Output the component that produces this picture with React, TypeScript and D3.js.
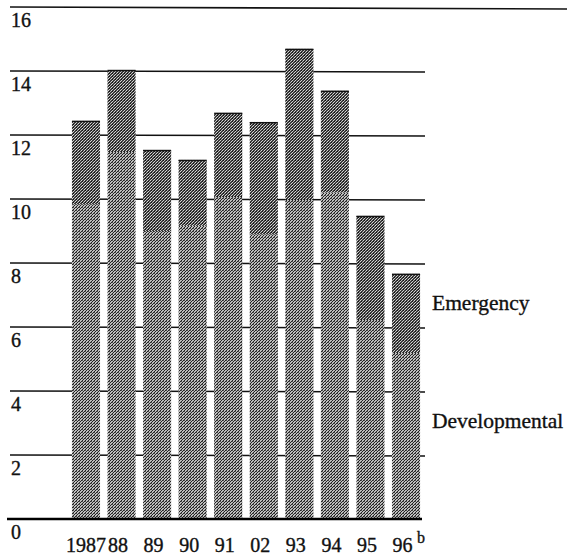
import React from "react";
import * as d3 from "d3";

const years = ["1987", "88", "89", "90", "91", "02", "93", "94", "95", "96"];
const developmental = [9.84, 11.47, 9.0, 9.16, 10.06, 8.9, 9.97, 10.2, 6.22, 5.19];
const emergency = [2.6, 2.56, 2.53, 2.06, 2.63, 3.5, 4.72, 3.18, 3.25, 2.47];
const yTicks = [0, 2, 4, 6, 8, 10, 12, 14, 16];
const seriesNames = ["Developmental", "Emergency"];

const W = 567;
const H = 558;

export default function App() {
  const y = d3.scaleLinear().domain([0, 16]).range([519, 7]);
  const x = d3
    .scaleBand<string>()
    .domain(years)
    .range([68.2, 423.8])
    .paddingInner(0.21)
    .paddingOuter(0.105);

  const stacked = d3
    .stack<any>()
    .keys(seriesNames)(
      years.map((yr, i) => ({
        year: yr,
        Developmental: developmental[i],
        Emergency: emergency[i],
      }))
    );

  const font = "'Liberation Serif', 'Times New Roman', serif";
  const txt = { fontFamily: font, fill: "#111", stroke: "#111", strokeWidth: 0.35 };

  return (
    <svg
      width={W}
      height={H}
      style={{ position: "absolute", left: 0, top: 0, background: "#fff" }}
    >
      <defs>
        <pattern id="dev" width="3" height="3" patternUnits="userSpaceOnUse">
          <rect width="3" height="3" fill="#bdbdbd" />
          <rect x="0" y="0" width="1" height="1" fill="#222" />
          <rect x="2" y="1" width="1" height="1" fill="#222" />
          <rect x="1" y="2" width="1" height="1" fill="#222" />
          <rect x="1" y="0" width="1" height="1" fill="#555" />
        </pattern>
        <pattern id="emg" width="3" height="3" patternUnits="userSpaceOnUse">
          <rect width="3" height="3" fill="#3a3a3a" />
          <rect x="0" y="0" width="1" height="1" fill="#d8d8d8" />
          <rect x="2" y="1" width="1" height="1" fill="#bbb" />
          <rect x="1" y="2" width="1" height="1" fill="#d0d0d0" />
          <rect x="1" y="1" width="1" height="1" fill="#111" />
        </pattern>
      </defs>

      {/* gridlines */}
      {yTicks.map((t) =>
        t === 16 ? (
          <line key={t} x1={10} x2={567} y1={y(t)} y2={y(t) + 2} stroke="#111" strokeWidth={1.6} />
        ) : t === 0 ? null : (
          <line key={t} x1={10} x2={425} y1={y(t)} y2={y(t) + 1} stroke="#111" strokeWidth={1.5} />
        )
      )}

      {/* bars */}
      {stacked.map((s, si) =>
        s.map((d, i) => (
          <rect
            key={si + "-" + i}
            x={x(years[i])}
            width={x.bandwidth()}
            y={y(d[1])}
            height={y(d[0]) - y(d[1])}
            fill={si === 0 ? "url(#dev)" : "url(#emg)"}
          />
        ))
      )}
      {stacked[1].map((d, i) => (
        <line
          key={"top" + i}
          x1={x(years[i])}
          x2={(x(years[i]) as number) + x.bandwidth()}
          y1={y(d[1]) + 0.5}
          y2={y(d[1]) + 0.5}
          stroke="#111"
          strokeWidth={1.5}
        />
      ))}

      {/* zero line */}
      <line x1={7} x2={422} y1={y(0)} y2={y(0)} stroke="#000" strokeWidth={2.5} />

      {/* y labels */}
      {yTicks.map((t) => (
        <text key={"yl" + t} x={11} y={y(t) + 20} fontSize={20} {...txt}>
          {t}
        </text>
      ))}

      {/* x labels */}
      {years.map((yr, i) => (
        <text
          key={"xl" + yr}
          x={(x(yr) as number) + x.bandwidth() / 2 - (i === 0 ? 0 : 3.5)}
          y={552}
          textAnchor="middle"
          fontSize={20}
          {...txt}
        >
          {yr}
        </text>
      ))}
      <text
        x={(x("96") as number) + x.bandwidth() / 2 + 11}
        y={543}
        fontSize={16}
        {...txt}
      >
        b
      </text>

      {/* legend labels */}
      <text x={432} y={310} fontSize={21.5} {...txt}>
        {seriesNames[1]}
      </text>
      <text x={432} y={428} fontSize={21.5} {...txt}>
        {seriesNames[0]}
      </text>
    </svg>
  );
}
